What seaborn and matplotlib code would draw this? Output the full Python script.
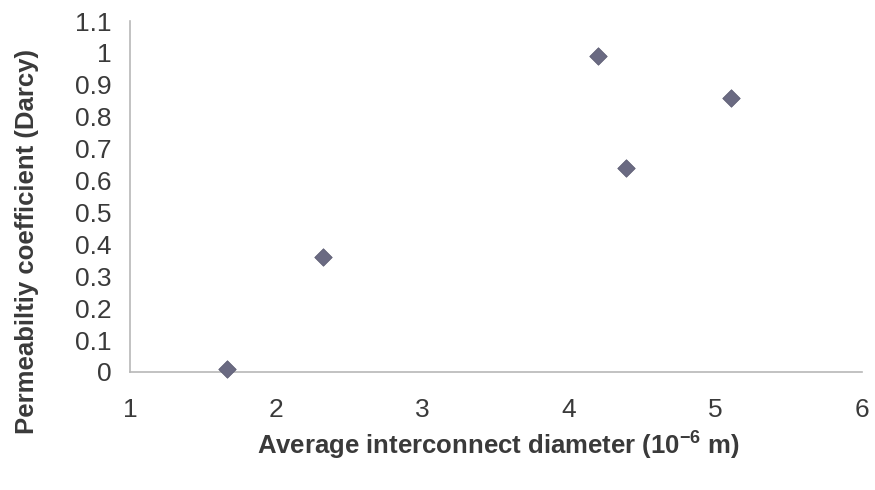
import matplotlib
matplotlib.use("Agg")
import matplotlib.pyplot as plt
import seaborn as sns
import pandas as pd

diameter = [1.66, 2.32, 4.20, 4.39, 5.11]
permeability = [0.01, 0.36, 0.99, 0.64, 0.86]
x_ticks = [1, 2, 3, 4, 5, 6]
y_ticks = [0, 0.1, 0.2, 0.3, 0.4, 0.5, 0.6, 0.7, 0.8, 0.9, 1.0, 1.1]
y_tick_labels = ["0", "0.1", "0.2", "0.3", "0.4", "0.5", "0.6", "0.7", "0.8", "0.9", "1", "1.1"]

df = pd.DataFrame({"d": diameter, "k": permeability})

sns.set_theme(style="white")
plt.rcParams["font.family"] = ["Liberation Sans", "DejaVu Sans"]
plt.rcParams["mathtext.default"] = "regular"

fig = plt.figure(figsize=(8.75, 4.9), dpi=100)
ax = fig.add_axes([0.1486, 0.241, 0.836, 0.716])

sns.scatterplot(data=df, x="d", y="k", marker="D", s=80, color="#6a6a82",
                edgecolor="#5a5a70", linewidth=0.5, ax=ax, clip_on=False, zorder=3)

ax.set_xlim(1, 6)
ax.set_ylim(0, 1.1)
ax.set_xticks(x_ticks)
ax.set_xticklabels([str(t) for t in x_ticks])
ax.set_yticks(y_ticks)
ax.set_yticklabels(y_tick_labels)

for side in ["top", "right"]:
    ax.spines[side].set_visible(False)
for side in ["left", "bottom"]:
    ax.spines[side].set_color("#b8b8b8")
    ax.spines[side].set_linewidth(1.2)

ax.tick_params(axis="both", which="major", direction="out", length=5, width=1,
               color="#b8b8b8", labelsize=19, labelcolor="#3a3a3a", pad=8)
ax.tick_params(axis="x", pad=14)

ax.set_xlabel("Average interconnect diameter (10$^{-6}$ m)", fontsize=18.5,
              fontweight="bold", color="#3a3a3a")
ax.set_ylabel("Permeabiltiy coefficient (Darcy)", fontsize=18.5,
              fontweight="bold", color="#3a3a3a")
ax.xaxis.set_label_coords(0.504, -0.165)
ax.yaxis.set_label_coords(-0.124, 0.373)

fig.savefig("out.png", dpi=100, facecolor="white")
